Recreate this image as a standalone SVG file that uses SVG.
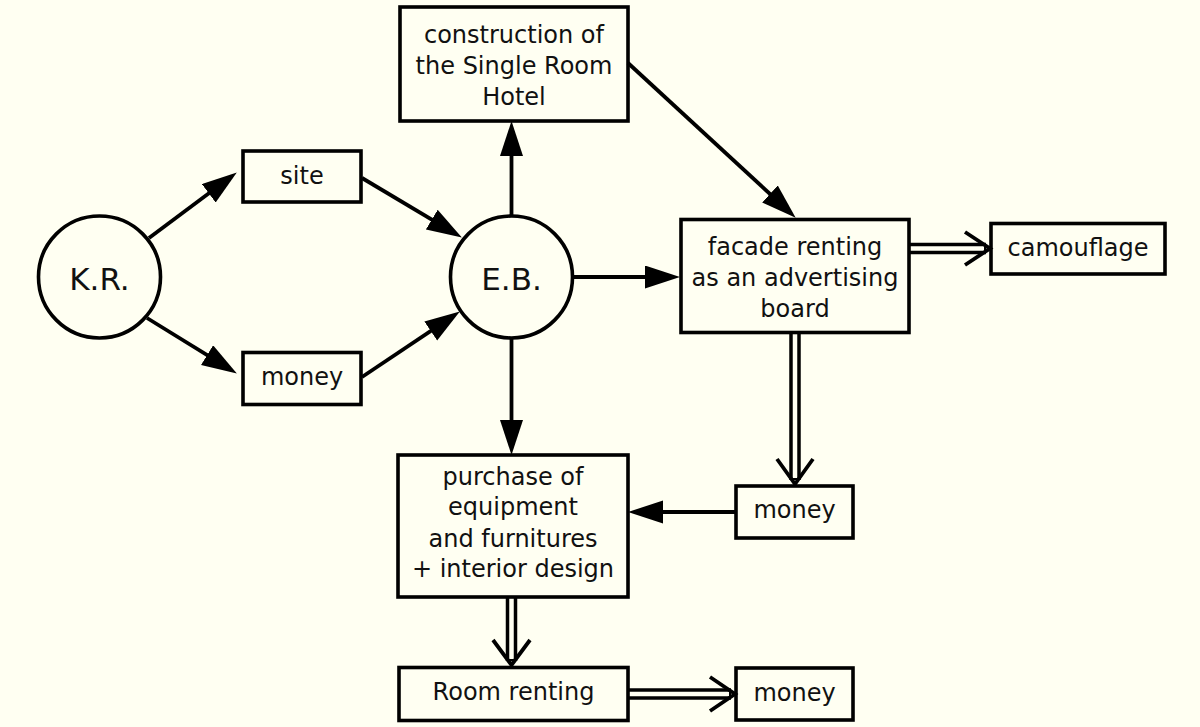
<svg xmlns="http://www.w3.org/2000/svg" width="1200" height="727" viewBox="0 0 1200 727">
<defs>
<style>
.bx{fill:none;stroke:#000;stroke-width:3.6}
.t{font-family:"DejaVu Sans",sans-serif;font-size:24px;fill:#111;text-anchor:middle}
.tc{font-family:"DejaVu Sans",sans-serif;font-size:31px;fill:#111;text-anchor:middle}
.ln{fill:none;stroke:#000;stroke-width:3.8;marker-end:url(#ah)}
.dOut{fill:none;stroke:#000;stroke-width:11.5}
.dIn{fill:none;stroke:#FFFFF2;stroke-width:4.5}
.chev{fill:none;stroke:#000;stroke-width:3.8;stroke-linejoin:miter}
</style>
<marker id="ah" markerUnits="userSpaceOnUse" markerWidth="37" markerHeight="24" refX="24" refY="11.5" orient="auto">
<path d="M0,0 L35,11.5 L0,23 z" fill="#000"/>
</marker>
</defs>
<rect width="1200" height="727" fill="#FFFFF2"/>

<g id="connectors">
<line class="ln" x1="149" y1="238" x2="228" y2="179"/>
<line class="ln" x1="362" y1="178" x2="452.4" y2="231.9"/>
<line class="ln" x1="147" y1="318" x2="227.5" y2="367.7"/>
<line class="ln" x1="362" y1="377" x2="450.7" y2="317.6"/>
<line class="ln" x1="511.5" y1="216" x2="511.5" y2="132"/>
<line class="ln" x1="628" y1="63" x2="787.6" y2="210.2"/>
<line class="ln" x1="572" y1="277" x2="669" y2="277"/>
<line class="ln" x1="511.5" y1="337" x2="511.5" y2="444"/>
<line class="ln" x1="736" y1="512" x2="639" y2="512"/>

<line class="dOut" x1="909" y1="248.5" x2="986" y2="248.5"/>
<line class="dIn" x1="907" y1="248.5" x2="984" y2="248.5"/>
<polyline class="chev" points="965,232 990,248.5 965,265"/>

<line class="dOut" x1="795" y1="333" x2="795" y2="480"/>
<line class="dIn" x1="795" y1="331" x2="795" y2="478"/>
<polyline class="chev" points="777,459 795,484 813,459"/>

<line class="dOut" x1="511.5" y1="597" x2="511.5" y2="661"/>
<line class="dIn" x1="511.5" y1="595" x2="511.5" y2="659"/>
<polyline class="chev" points="493,640 511.5,665 530,640"/>

<line class="dOut" x1="628" y1="694" x2="731" y2="694"/>
<line class="dIn" x1="626" y1="694" x2="729" y2="694"/>
<polyline class="chev" points="710,677 735,694 710,711"/>
</g>

<g id="kr">
<circle class="bx" cx="99.5" cy="277" r="61"/>
<text class="tc" x="99.5" y="290">K.R.</text>
</g>
<g id="eb">
<circle class="bx" cx="511.5" cy="277" r="61"/>
<text class="tc" x="511.5" y="290">E.B.</text>
</g>
<g id="site">
<rect class="bx" x="243" y="151" width="118" height="51"/>
<text class="t" x="302" y="184">site</text>
</g>
<g id="money1">
<rect class="bx" x="243" y="352.5" width="118" height="52"/>
<text class="t" x="302" y="385">money</text>
</g>
<g id="construction">
<rect class="bx" x="400" y="7" width="228" height="114"/>
<text class="t" x="514" y="43">construction of</text>
<text class="t" x="514" y="74">the Single Room</text>
<text class="t" x="514" y="105">Hotel</text>
</g>
<g id="facade">
<rect class="bx" x="681" y="219.5" width="228" height="113"/>
<text class="t" x="795" y="255">facade renting</text>
<text class="t" x="795" y="286">as an advertising</text>
<text class="t" x="795" y="317">board</text>
</g>
<g id="camouflage">
<rect class="bx" x="991" y="223.5" width="174" height="50.5"/>
<text class="t" x="1078" y="256">camouflage</text>
</g>
<g id="money2">
<rect class="bx" x="736" y="486" width="117" height="52"/>
<text class="t" x="794.5" y="518">money</text>
</g>
<g id="purchase">
<rect class="bx" x="398" y="455" width="230" height="142"/>
<text class="t" x="513" y="485">purchase of</text>
<text class="t" x="513" y="515">equipment</text>
<text class="t" x="513" y="547">and furnitures</text>
<text class="t" x="513" y="577">+ interior design</text>
</g>
<g id="roomrenting">
<rect class="bx" x="399" y="667.5" width="229" height="53"/>
<text class="t" x="513.5" y="700">Room renting</text>
</g>
<g id="money3">
<rect class="bx" x="736" y="668" width="117" height="52"/>
<text class="t" x="794.5" y="701">money</text>
</g>
</svg>
